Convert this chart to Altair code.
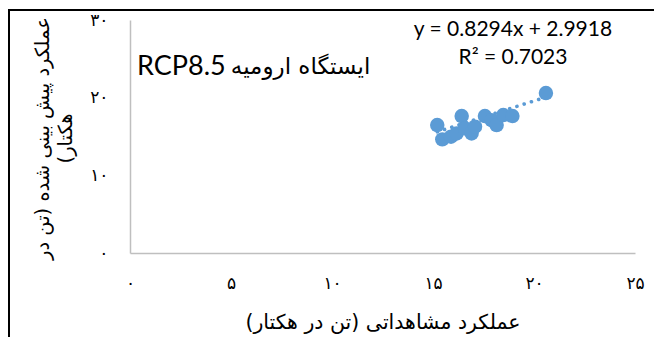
import altair as alt
import pandas as pd

# ---- data ----
observed = [15.21, 15.46, 15.89, 16.17, 16.42, 16.58, 16.91, 17.08, 17.57, 17.90, 18.15, 18.48, 18.93, 20.59]
predicted = [16.47, 14.63, 14.97, 15.40, 17.63, 16.05, 15.40, 16.26, 17.63, 17.10, 16.47, 17.76, 17.63, 20.59]
slope = 0.8294
intercept = 2.9918
r_squared = 0.7023

x_ticks = [0, 5, 10, 15, 20, 25]
x_tick_labels = ["۰", "۵", "۱۰", "۱۵", "۲۰", "۲۵"]
y_ticks = [0, 10, 20, 30]
y_tick_labels = ["۰", "۱۰", "۲۰", "۳۰"]

x_title = "عملکرد مشاهداتی (تن در هکتار)\u200f"
y_title = ["عملکرد پیش بینی شده (تن در", "هکتار)\u200f"]
scenario = "RCP8.5"
station = "ایستگاه ارومیه"
eq_lines = [f"y = {slope}x + {intercept}", f"R² = {r_squared}"]

# annotation anchors (data units)
eq_x = [18.96, 18.96]
eq_y = [28.7, 25.1]
scen_x = [0.35]
scen_y = [23.9]
station_x = [11.9]
station_y = [23.9]

BLUE = "#5B9BD5"
GRAY = "#BFBFBF"


def label_expr(ticks, labels):
    expr = "''"
    for t, l in zip(ticks, labels):
        expr = f"datum.value == {t} ? '{l}' : ({expr})"
    return expr


df = pd.DataFrame({"obs": observed, "pred": predicted})

x_enc = alt.X(
    "obs:Q",
    scale=alt.Scale(domain=[0, 25], nice=False, zero=True),
    axis=alt.Axis(
        values=x_ticks, labelExpr=label_expr(x_ticks, x_tick_labels),
        title=x_title, grid=False, ticks=False, tickSize=0,
        domainColor=GRAY, domainWidth=1.5,
        labelFont="DejaVu Sans", labelFontSize=17, labelColor="black",
        labelPadding=30, labelBaseline="middle", labelFlush=False, labelOverlap=False,
        titleFont="DejaVu Sans", titleFontSize=20.5, titleFontWeight="normal",
        titleColor="black", titleY=69, titleBaseline="middle",
    ),
)
y_enc = alt.Y(
    "pred:Q",
    scale=alt.Scale(domain=[0, 30], nice=False),
    axis=alt.Axis(
        values=y_ticks, labelExpr=label_expr(y_ticks, y_tick_labels),
        title=y_title, grid=False, ticks=False, tickSize=0,
        domainColor=GRAY, domainWidth=1.5,
        labelFont="DejaVu Sans", labelFontSize=17, labelColor="black",
        labelPadding=22, labelOverlap=False, labelFlush=False,
        titleFont="DejaVu Sans", titleFontSize=19.5, titleFontWeight="normal",
        titleColor="black", titleAngle=270, titleX=-88, titleY=118,
        titleAlign="center", titleBaseline="middle", titleLineHeight=23,
    ),
)

points = alt.Chart(df).mark_circle(size=210, color=BLUE, opacity=1).encode(x=x_enc, y=y_enc)

trend = (
    alt.Chart(df)
    .transform_calculate(pred=f"{slope} * datum.obs + {intercept}")
    .mark_line(color=BLUE, strokeDash=[0.1, 7.5], strokeWidth=3.6, strokeCap="round")
    .encode(x="obs:Q", y="pred:Q")
)

eq_df = pd.DataFrame({"obs": eq_x, "pred": eq_y, "t": eq_lines})
eq_text = alt.Chart(eq_df).mark_text(
    font="Lato", fontSize=21, color="black", align="center", baseline="middle"
).encode(x="obs:Q", y="pred:Q", text="t:N")

scen_df = pd.DataFrame({"obs": scen_x, "pred": scen_y, "t": [scenario]})
scen_text = alt.Chart(scen_df).mark_text(
    font="Lato", fontSize=27, color="black", align="left", baseline="middle"
).encode(x="obs:Q", y="pred:Q", text="t:N")

station_df = pd.DataFrame({"obs": station_x, "pred": station_y, "t": [station]})
station_text = alt.Chart(station_df).mark_text(
    font="DejaVu Sans", fontSize=23, color="black", align="right", baseline="middle"
).encode(x="obs:Q", y="pred:Q", text="t:N")

# outer frame of the chart area (top and left edges)
top_border = alt.Chart(df).mark_rule(color="black", strokeWidth=2).encode(
    x=alt.value(-122), x2=alt.value(524), y=alt.value(-10)
)
left_border = alt.Chart(df).mark_rule(color="black", strokeWidth=2).encode(
    x=alt.value(-121), y=alt.value(-11), y2=alt.value(330)
)

chart = (
    alt.layer(trend, points, eq_text, scen_text, station_text, top_border, left_border)
    .properties(
        width=505, height=233,
        autosize=alt.AutoSizeParams(type="none"),
        padding={"left": 122, "top": 12, "right": 19, "bottom": 84},
    )
    .configure_view(strokeWidth=0)
)

chart.save("out.html", embed_options={"renderer": "svg", "actions": False})
